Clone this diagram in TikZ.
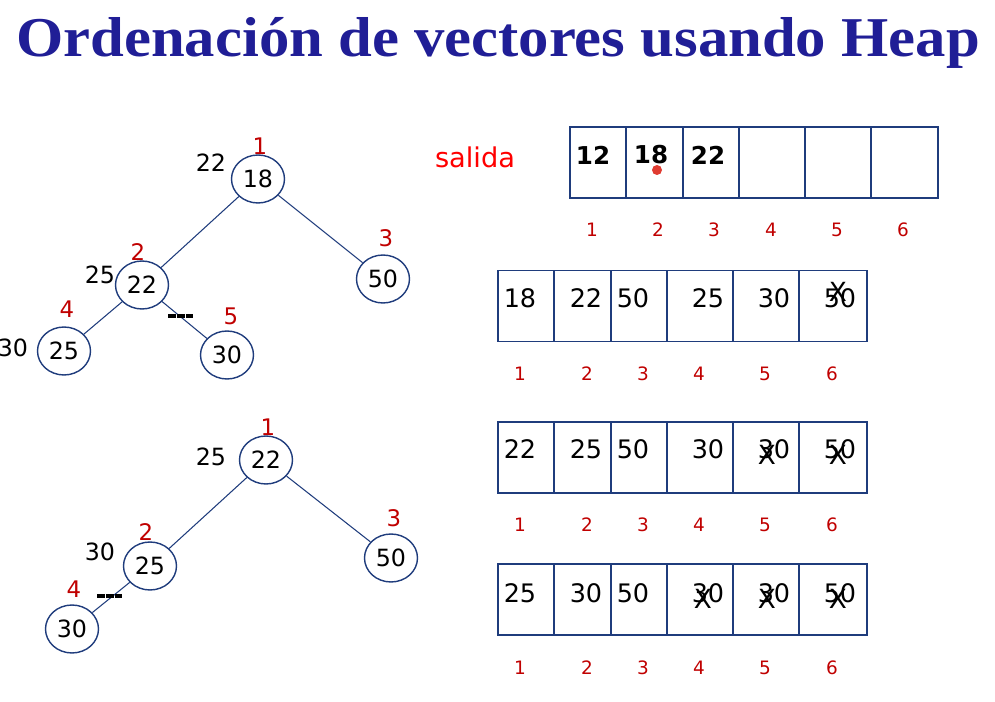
\documentclass[tikz,border=0pt]{standalone}
\usepackage{fontspec}
\setmainfont{DejaVu Sans}
\newfontfamily\titulofont{Liberation Serif}
\usetikzlibrary{shapes.geometric, positioning}
\definecolor{azul}{HTML}{1F3C7C}
\definecolor{titulo}{HTML}{201E96}
\definecolor{rojo}{HTML}{C00000}
\definecolor{rojovivo}{HTML}{FF0000}
\definecolor{punto}{HTML}{E03C31}
\tikzset{
  nodo/.style={ellipse, draw=azul, line width=0.8pt, minimum width=1.06cm, minimum height=0.96cm, inner sep=0pt, font=\fontsize{13.5}{15}\selectfont},
  arista/.style={draw=azul, line width=0.6pt},
  indice/.style={text=rojo, font=\fontsize{13}{15}\selectfont},
  peso/.style={font=\fontsize{13.5}{15}\selectfont},
  celda/.style={rectangle, draw=azul, line width=0.7pt, minimum height=1.42cm, inner sep=0pt},
  valor/.style={font=\fontsize{14.5}{17}\selectfont, inner sep=0pt},
  posicion/.style={text=rojo, font=\fontsize{10.5}{12}\selectfont},
  tachado/.style={font=\fontsize{15}{18}\selectfont, inner sep=0pt},
  marca/.style={line width=2pt, dash pattern=on 4.4pt off 0.7pt}
}
\begin{document}
\begin{tikzpicture}[x=0.02cm, y=-0.02cm]
\useasboundingbox (0,0) rectangle (995,702);

% Titulo
\node[anchor=base, text=titulo, font=\titulofont\bfseries\fontsize{32}{38}\selectfont] (titulo) at (498,57) {\scalebox{1.08}[1]{Ordenación de vectores usando Heap}};

% Primer heap
\node[nodo] (r1) at (258,179) {18};
\node[nodo] (a1) at (142,285) {22};
\node[nodo] (b1) at (383,279) {50};
\node[nodo] (c1) at (64,351) {25};
\node[nodo] (d1) at (227,355) {30};
\draw[arista] (r1) -- (a1);
\draw[arista] (r1) -- (b1);
\draw[arista] (a1) -- (c1);
\draw[arista] (a1) -- (d1);
\draw[marca] (168,316) -- (193,316);
\node[indice] (ir1) at (260,146) {1};
\node[indice] (ia1) at (138,252) {2};
\node[indice] (ib1) at (386,238) {3};
\node[indice] (ic1) at (67,309) {4};
\node[indice] (id1) at (231,316) {5};
\node[peso] (pr1) at (211,163) {22};
\node[peso] (pa1) at (100,275) {25};
\node[peso] (pc1) at (13,348) {30};

% Segundo heap
\node[nodo] (r2) at (266,460) {22};
\node[nodo] (a2) at (150,566) {25};
\node[nodo] (b2) at (391,558) {50};
\node[nodo] (c2) at (72,629) {30};
\draw[arista] (r2) -- (a2);
\draw[arista] (r2) -- (b2);
\draw[arista] (a2) -- (c2);
\draw[marca] (97,596) -- (122,596);
\node[indice] (ir2) at (268,427) {1};
\node[indice] (ia2) at (146,532) {2};
\node[indice] (ib2) at (394,518) {3};
\node[indice] (ic2) at (74,589) {4};
\node[peso] (pr2) at (211,457) {25};
\node[peso] (pa2) at (100,552) {30};

% Vector de salida
\node[text=rojovivo, font=\fontsize{15.5}{18}\selectfont] (salida) at (475,157) {salida};
\foreach \xa/\xb/\xi [count=\i] in {570/626/592, 626/683/658, 683/739/714, 739/805/771, 805/871/837, 871/938/903} {
  \node[celda, minimum width={(\xb-\xa)*0.02cm}] (s\i) at ({(\xa+\xb)/2},162.5) {};
  \node[posicion] (ps\i) at (\xi,230) {\i};
}
\foreach \v/\x [count=\i] in {12/593, 18/651, 22/708}
  \node[valor, font=\bfseries\fontsize{14}{17}\selectfont] (vs\i) at (\x,155) {\v};
\fill[punto] (657,170) circle (5);

% Vectores del heap
\foreach \fila/\yc/\yv/\yp/\valores in {2/306/298/374/{18,22,50,25,30,50}, 3/457.5/449/525/{22,25,50,30,30,50}, 4/599.5/593/668/{25,30,50,30,30,50}} {
  \foreach \xa/\xb/\xv/\xi [count=\i] in {498/554/520/520, 554/611/586/587, 611/667/633/643, 667/733/708/699, 733/799/774/765, 799/867/840/832} {
    \node[celda, minimum width={(\xb-\xa)*0.02cm}] (c\fila-\i) at ({(\xa+\xb)/2},\yc) {};
    \node[posicion] (p\fila-\i) at (\xi,\yp) {\i};
    \pgfmathtruncatemacro{\v}{{\valores}[\i-1]}
    \node[valor] (v\fila-\i) at (\xv,\yv) {\v};
  }
}

% Tachados
\node[tachado] (x2-6) at (838,292) {X};
\node[tachado] (x3-5) at (767,455) {X};
\node[tachado] (x3-6) at (838,455) {X};
\node[tachado] (x4-4) at (703,599) {X};
\node[tachado] (x4-5) at (767,599) {X};
\node[tachado] (x4-6) at (838,599) {X};
\end{tikzpicture}
\end{document}
